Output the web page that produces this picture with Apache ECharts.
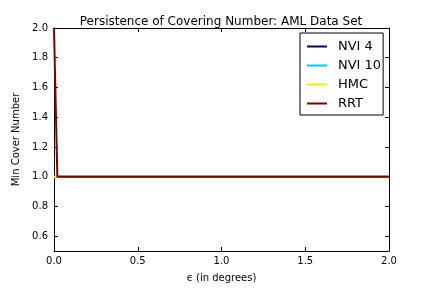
<!DOCTYPE html>
<html><head><meta charset="utf-8">
<script src="https://cdn.jsdelivr.net/npm/echarts@6/dist/echarts.min.js"></script>
<style>html,body{margin:0;padding:0;background:#fff}#c{width:432px;height:288px}</style>
</head><body><div id="c"></div>
<script>
const epsValues = [0, 0.02, 2.0];
const nvi4 = [1, 1, 1];
const nvi10 = [1, 1, 1];
const hmc = [1, 1, 1];
const rrt = [2, 1, 1];
const yTicks = [0.6, 0.8, 1.0, 1.2, 1.4, 1.6, 1.8, 2.0];
const xTicks = [0.0, 0.5, 1.0, 1.5, 2.0];
const seriesNames = ['NVI 4', 'NVI 10', 'HMC', 'RRT'];
const seriesColors = ['#000080', '#00c8ff', '#ffe600', '#800000'];
const seriesData = [nvi4, nvi10, hmc, rrt];

const font = 'DejaVu Sans';
const chart = echarts.init(document.getElementById('c'));
const tickStyle = {show: true, inside: true, length: 4, lineStyle: {color: '#000', width: 1}};
chart.setOption({
  animation: false,
  textStyle: {fontFamily: font},
  title: {text: 'Persistence of Covering Number: AML Data Set', left: 216, top: 11, textAlign: 'center',
    textStyle: {fontFamily: font, fontSize: 12, fontWeight: 'normal', color: '#000'}},
  grid: {left: 54, right: 43, top: 28, bottom: 36},
  legend: {orient: 'vertical', left: 300, top: 33, itemWidth: 20, itemHeight: 2, itemGap: 6,
    icon: 'rect',
    padding: [7, 2, 5, 7], borderColor: '#000', borderWidth: 1, borderRadius: 0, backgroundColor: '#fff',
    textStyle: {fontFamily: font, fontSize: 13, color: '#000', padding: [0, 0, 0, 6]},
    data: seriesNames},
  xAxis: [
    {type: 'value', min: 0, max: 2, interval: 0.5,
      axisLine: {show: true, onZero: false, lineStyle: {color: '#000', width: 1}},
      axisTick: tickStyle, splitLine: {show: false},
      axisLabel: {fontFamily: font, fontSize: 10, color: '#000', margin: 5,
        formatter: v => v.toFixed(1)},
      name: 'ϵ (in degrees)', nameLocation: 'middle', nameGap: 22,
      nameTextStyle: {fontFamily: font, fontSize: 10, color: '#000'}},
    {type: 'value', position: 'top', min: 0, max: 2, interval: 0.5,
      axisLine: {show: true, onZero: false, lineStyle: {color: '#000', width: 1}},
      axisTick: tickStyle, axisLabel: {show: false}, splitLine: {show: false}}
  ],
  yAxis: [
    {type: 'value', min: 0.5, max: 2.0,
      axisLine: {show: true, onZero: false, lineStyle: {color: '#000', width: 1}},
      axisTick: Object.assign({customValues: yTicks}, tickStyle), splitLine: {show: false},
      axisLabel: {customValues: yTicks, fontFamily: font, fontSize: 10, color: '#000', margin: 6,
        formatter: v => v.toFixed(1)},
      name: 'Min Cover Number', nameLocation: 'middle', nameGap: 27, nameRotate: 90,
      nameTextStyle: {fontFamily: font, fontSize: 10, color: '#000'}},
    {type: 'value', position: 'right', min: 0.5, max: 2.0,
      axisLine: {show: true, onZero: false, lineStyle: {color: '#000', width: 1}},
      axisTick: Object.assign({customValues: yTicks}, tickStyle),
      axisLabel: {show: false, customValues: yTicks}, splitLine: {show: false}}
  ],
  series: seriesNames.map((n, i) => ({
    name: n, type: 'line', symbol: 'none', xAxisIndex: 0, yAxisIndex: 0,
    color: seriesColors[i],
    lineStyle: {width: 2, color: seriesColors[i]},
    data: epsValues.map((x, j) => [x, seriesData[i][j]])
  }))
});
</script></body></html>
